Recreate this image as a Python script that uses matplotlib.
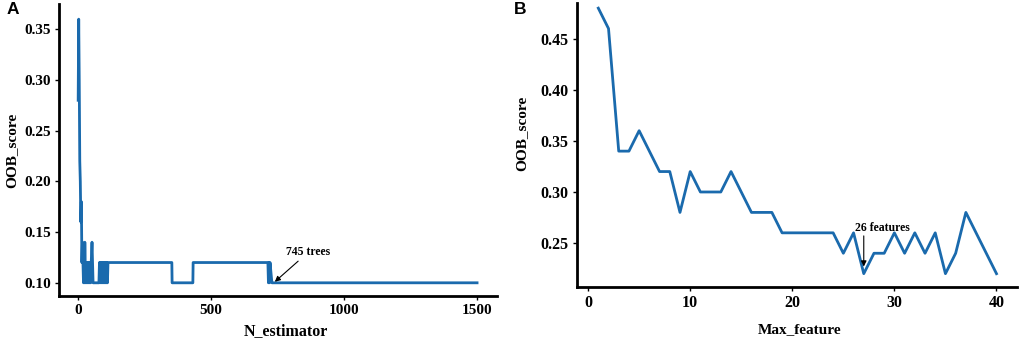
import numpy as np
import matplotlib.pyplot as plt

# Panel A: OOB score against number of trees (break points of the curve)
n_estimator = [1, 3, 5, 7, 9, 11, 13, 15, 17, 19, 21, 23, 25, 26, 28, 30, 32, 34,
               36, 38, 40, 42, 44, 46, 48, 50, 53, 55, 57, 79, 81, 83, 85, 87, 89,
               91, 93, 95, 97, 99, 101, 103, 105, 107, 109, 111, 113, 353, 354,
               432, 433, 714, 716, 718, 720, 722, 729, 1500]
oob_a = [0.28, 0.36, 0.30, 0.22, 0.20, 0.16, 0.18, 0.12, 0.14, 0.12, 0.10, 0.12,
         0.10, 0.14, 0.10, 0.12, 0.10, 0.12, 0.10, 0.12, 0.10, 0.12, 0.10, 0.12,
         0.10, 0.12, 0.14, 0.12, 0.10, 0.10, 0.12, 0.10, 0.12, 0.10, 0.12, 0.10,
         0.12, 0.10, 0.12, 0.10, 0.12, 0.10, 0.12, 0.10, 0.12, 0.10, 0.12, 0.12,
         0.10, 0.10, 0.12, 0.12, 0.10, 0.12, 0.10, 0.12, 0.10, 0.10]

# Panel B: OOB score against max_features
max_feature = list(range(1, 41))
oob_b = [0.48, 0.46, 0.34, 0.34, 0.36, 0.34, 0.32, 0.32, 0.28, 0.32,
         0.30, 0.30, 0.30, 0.32, 0.30, 0.28, 0.28, 0.28, 0.26, 0.26,
         0.26, 0.26, 0.26, 0.26, 0.24, 0.26, 0.22, 0.24, 0.24, 0.26,
         0.24, 0.26, 0.24, 0.26, 0.22, 0.24, 0.28, 0.26, 0.24, 0.22]

line_color = '#1a6aad'
serif = 'Liberation Serif'

fig = plt.figure(figsize=(10.21, 3.38), dpi=100)
axA = fig.add_axes([0.0578, 0.1243, 0.429, 0.864])
axB = fig.add_axes([0.565, 0.151, 0.431, 0.840])


def style(ax, size):
    for s in ['top', 'right']:
        ax.spines[s].set_visible(False)
    for s in ['left', 'bottom']:
        ax.spines[s].set_linewidth(2)
    ax.tick_params(length=3, width=1, pad=3)
    for lab in ax.get_xticklabels() + ax.get_yticklabels():
        lab.set_fontfamily(serif)
        lab.set_fontweight('bold')
        lab.set_fontsize(size)


# panel A
axA.plot(n_estimator, oob_a, color=line_color, lw=2)
axA.set_xlim(-71, 1575)
axA.set_ylim(0.087, 0.375)
axA.set_xticks([0, 500, 1000, 1500])
axA.set_yticks([0.10, 0.15, 0.20, 0.25, 0.30, 0.35])
axA.set_yticklabels(['0.10', '0.15', '0.20', '0.25', '0.30', '0.35'])
style(axA, 11)
axA.set_xlabel('N_estimator', fontfamily=serif, fontweight='bold', fontsize=11.5)
axA.set_ylabel('OOB_score', fontfamily=serif, fontweight='bold', fontsize=11)
axA.xaxis.set_label_coords(0.518, -0.092)
axA.yaxis.set_label_coords(-0.093, 0.5)
axA.annotate('745 trees', xy=(740, 0.101), xytext=(782, 0.13),
             fontfamily=serif, fontweight='bold', fontsize=8.5, va='center', ha='left',
             arrowprops=dict(arrowstyle='-|>', color='black', lw=0.8,
                             mutation_scale=8, shrinkA=0, shrinkB=0))

# panel B
axB.plot(max_feature, oob_b, color=line_color, lw=2)
axB.set_xlim(-1.1, 42)
axB.set_ylim(0.207, 0.485)
axB.set_xticks([0, 10, 20, 30, 40])
axB.set_yticks([0.25, 0.30, 0.35, 0.40, 0.45])
axB.set_yticklabels(['0.25', '0.30', '0.35', '0.40', '0.45'])
style(axB, 11.5)
axB.set_xlabel('Max_feature', fontfamily=serif, fontweight='bold', fontsize=11)
axB.set_ylabel('OOB_score', fontfamily=serif, fontweight='bold', fontsize=11)
axB.xaxis.set_label_coords(0.507, -0.127)
axB.yaxis.set_label_coords(-0.111, 0.54)
axB.annotate('26 features', xy=(27, 0.227), xytext=(28.8, 0.265),
             fontfamily=serif, fontweight='bold', fontsize=8.5, va='center', ha='center')
axB.annotate('', xy=(27, 0.227), xytext=(27, 0.257),
             arrowprops=dict(arrowstyle='-|>', color='black', lw=0.8,
                             mutation_scale=8, shrinkA=0, shrinkB=0))

fig.text(0.0127, 0.973, 'A', fontfamily='Liberation Sans', fontweight='bold',
         fontsize=12.5, ha='center', va='center')
fig.text(0.509, 0.973, 'B', fontfamily='Liberation Sans', fontweight='bold',
         fontsize=12.5, ha='center', va='center')

fig.savefig('out.png', dpi=100)
